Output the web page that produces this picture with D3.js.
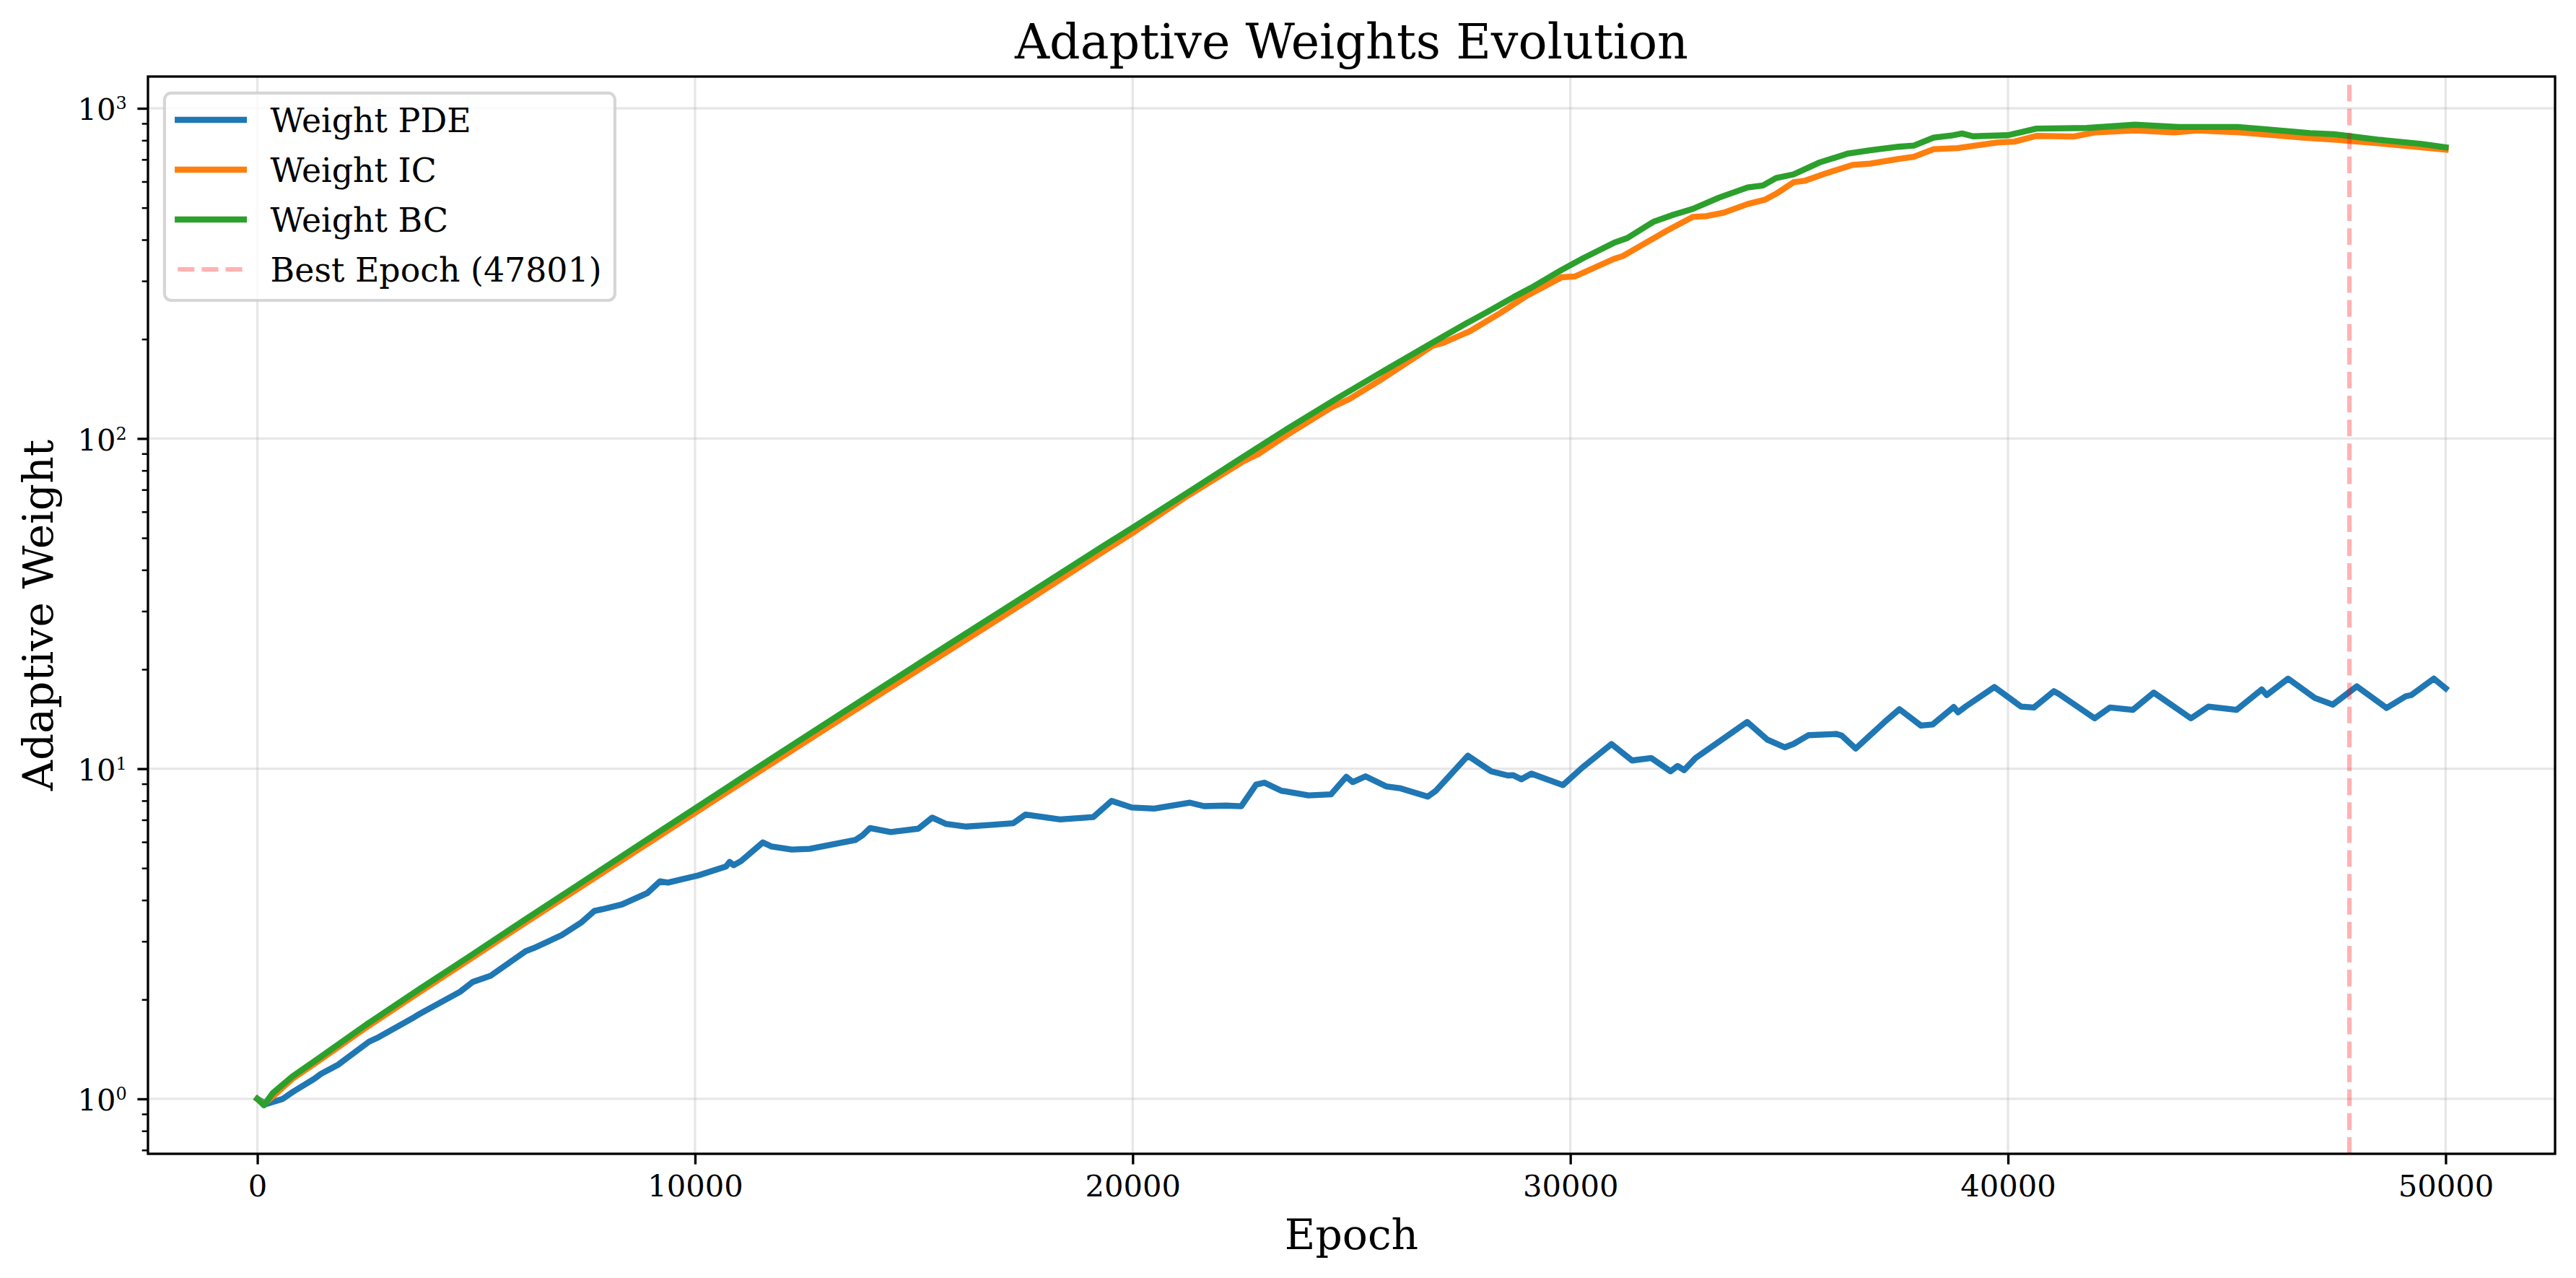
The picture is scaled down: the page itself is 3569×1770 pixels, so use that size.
<!DOCTYPE html>
<html><head><meta charset="utf-8">
<script src="https://cdn.jsdelivr.net/npm/d3@7"></script>
<style>html,body{margin:0;padding:0;background:#fff;} svg{display:block;}</style>
</head><body>
<svg id="chart" width="3569" height="1770"></svg>
<script>
// ---------------- DATA ----------------
const seriesNames = ["Weight PDE", "Weight IC", "Weight BC"];
const bestEpoch = 47801;
const bestLabel = "Best Epoch (47801)";
const xTickValues = [0, 10000, 20000, 30000, 40000, 50000];
const yTickValues = [1, 10, 100, 1000];
const yTickExponents = ["0", "1", "2", "3"];

const epochPDE = [0,200,580,810,1300,1450,1850,2550,2780,3590,3710,4630,4920,5330,6130,6310,6950,7410,7700,7870,8330,8910,9200,9380,10070,10710,10790,10880,11050,11550,11750,12210,12620,13660,13830,14000,14470,15100,15420,15740,16200,16780,17270,17550,18340,19100,19520,19980,20490,21310,21630,22130,22480,22820,23010,23390,24020,24530,24880,25030,25320,25790,26100,26740,26930,27660,28190,28570,28690,28880,29110,29830,30270,30940,31410,31850,32290,32450,32600,32860,34040,34500,34900,35100,35440,36080,36200,36520,37180,37520,38010,38280,38760,38860,39030,39690,40300,40590,41050,41170,41980,42330,42850,43330,44180,44580,45220,45800,45910,46400,47010,47420,47970,48650,49090,49210,49730,50000];
const weightPDE = [1.0,0.965,1.0,1.05,1.15,1.19,1.27,1.49,1.54,1.77,1.81,2.11,2.26,2.36,2.80,2.86,3.13,3.43,3.71,3.75,3.88,4.20,4.56,4.52,4.75,5.06,5.22,5.10,5.25,5.98,5.81,5.69,5.72,6.08,6.29,6.61,6.43,6.58,7.11,6.80,6.68,6.76,6.84,7.26,7.02,7.14,7.99,7.63,7.57,7.89,7.70,7.73,7.70,8.95,9.07,8.58,8.30,8.36,9.45,9.11,9.48,8.84,8.73,8.23,8.58,10.95,9.82,9.54,9.56,9.29,9.66,8.92,10.07,11.87,10.59,10.77,9.82,10.19,9.90,10.77,13.85,12.25,11.61,11.88,12.63,12.74,12.6,11.51,13.85,15.14,13.51,13.62,15.37,14.82,15.42,17.67,15.42,15.32,17.17,16.82,14.21,15.32,15.07,17.0,14.21,15.42,15.07,17.38,16.71,18.74,16.38,15.63,17.76,15.27,16.58,16.7,18.74,17.52];

const epochIC = [0,150,400,800,1400,2500,3700,4850,6000,7200,8350,9250,10650,11800,12950,14100,15300,16400,17550,19300,20000,21250,22500,22870,23550,24550,24950,25650,26850,27100,27700,28400,29000,29800,30100,31000,31200,32200,32800,33100,33500,34050,34450,34700,35100,35350,35850,36450,36850,37500,37850,38300,38850,39750,40150,40650,41500,42000,42900,43800,44350,45300,46800,47450,48450,50000];
const weightIC = [1.0,0.965,1.03,1.150,1.303,1.650,2.104,2.645,3.334,4.227,5.309,6.339,8.356,10.47,13.12,16.41,20.70,25.6,32.0,45.2,51.8,67.0,84.9,89.8,103,124.4,131.6,150,190.8,195,211.2,240,270.3,307.9,309.5,350,357,425.7,469,471.6,483,513,529,551,597,603,636,674,680,703,713,752,758,788,793,825,821,846,857,846,857,846,814,804,784,750];

const epochBC = [0,150,350,800,1400,2500,3700,4850,6000,7200,8350,9250,10650,11800,12950,14100,15300,16400,17550,19300,20000,21250,22500,23550,24650,25650,26850,27600,28100,28700,29100,29800,30300,31000,31300,31900,32350,32800,33400,34050,34400,34700,35100,35700,36350,36850,37500,37850,38300,38750,38950,39200,40000,40650,41800,42900,43900,45250,45950,46900,47450,48450,49450,50000];
const weightBC = [1.0,0.956,1.041,1.169,1.327,1.683,2.148,2.704,3.412,4.335,5.458,6.531,8.630,10.84,13.61,17.06,21.58,26.73,33.42,46.99,53.70,68.5,87.5,107.4,131.8,157.8,195.0,222.3,241.6,268.0,285.8,324.0,352.0,391.7,404.6,453.3,476,496,536.6,576,584,615,631,686,730,746,765,771,815,829,839,823,829,868,872,892,878,878,863,841,835,804,780,762];

// ---------------- LAYOUT ----------------
const W = 3569, H = 1770;
const L = 205, R = 3540, T = 106, B = 1598;
const PT = 300 / 72;
const FONT = "'DejaVu Serif', serif";
const colors = ["#1f77b4", "#ff7f0e", "#2ca02c"];

const svg = d3.select("#chart");
svg.append("rect").attr("width", W).attr("height", H).attr("fill", "#fff");

const x = d3.scaleLinear().domain([-2500, 52500]).range([L, R]);
const y = d3.scaleLog().domain([0.6818, 1248.2]).range([B, T]);

// grid
const grid = svg.append("g");
grid.selectAll("line.gx").data(xTickValues).join("line")
  .attr("x1", d => x(d)).attr("x2", d => x(d)).attr("y1", T).attr("y2", B)
  .attr("stroke", "#b0b0b0").attr("stroke-opacity", 0.3).attr("stroke-width", 0.8 * PT);
grid.selectAll("line.gy").data(yTickValues).join("line")
  .attr("y1", d => y(d)).attr("y2", d => y(d)).attr("x1", L).attr("x2", R)
  .attr("stroke", "#b0b0b0").attr("stroke-opacity", 0.3).attr("stroke-width", 0.8 * PT);

// clip
svg.append("clipPath").attr("id", "clip").append("rect")
  .attr("x", L).attr("y", T).attr("width", R - L).attr("height", B - T);

const series = [
  { e: epochPDE, v: weightPDE },
  { e: epochIC, v: weightIC },
  { e: epochBC, v: weightBC }
];
const line = d3.line().x(d => x(d[0])).y(d => y(d[1]));
const plot = svg.append("g").attr("clip-path", "url(#clip)");
series.forEach((s, i) => {
  plot.append("path")
    .datum(s.e.map((ep, k) => [ep, s.v[k]]))
    .attr("d", line)
    .attr("fill", "none")
    .attr("stroke", colors[i])
    .attr("stroke-width", 2 * PT)
    .attr("stroke-linejoin", "round")
    .attr("stroke-linecap", "square");
});

// best epoch vertical line (drawn bottom -> top like axvline)
plot.append("line")
  .attr("x1", x(bestEpoch)).attr("x2", x(bestEpoch))
  .attr("y1", B).attr("y2", T)
  .attr("stroke", "red").attr("stroke-opacity", 0.3)
  .attr("stroke-width", 1.5 * PT)
  .attr("stroke-dasharray", `${3.7 * 1.5 * PT} ${1.6 * 1.5 * PT}`);

// spines
svg.append("rect").attr("x", L).attr("y", T).attr("width", R - L).attr("height", B - T)
  .attr("fill", "none").attr("stroke", "#000").attr("stroke-width", 0.8 * PT);

// x axis
const gx = svg.append("g").attr("transform", `translate(0,${B})`)
  .call(d3.axisBottom(x).tickValues(xTickValues).tickFormat(d3.format("d"))
    .tickSize(3.5 * PT).tickPadding(3.5 * PT));
gx.select(".domain").remove();
gx.selectAll(".tick line").attr("stroke", "#000").attr("stroke-width", 0.8 * PT);
gx.selectAll(".tick text").attr("font-family", FONT).attr("font-size", 10 * PT).attr("fill", "#000");

// y minor ticks
const minor = [];
[-1, 0, 1, 2, 3].forEach(k => { for (let m = 2; m <= 9; m++) { const v = m * Math.pow(10, k); if (v >= 0.6818 && v <= 1248.2) minor.push(v); } });
const gym = svg.append("g").attr("transform", `translate(${L},0)`)
  .call(d3.axisLeft(y).tickValues(minor).tickFormat(() => "").tickSize(2 * PT));
gym.select(".domain").remove();
gym.selectAll(".tick line").attr("stroke", "#000").attr("stroke-width", 0.6 * PT);

// y major ticks
const gy = svg.append("g").attr("transform", `translate(${L},0)`)
  .call(d3.axisLeft(y).tickValues(yTickValues).tickFormat(() => "")
    .tickSize(3.5 * PT).tickPadding(3.5 * PT));
gy.select(".domain").remove();
gy.selectAll(".tick line").attr("stroke", "#000").attr("stroke-width", 0.8 * PT);
gy.selectAll(".tick text").each(function (d, i) {
  const t = d3.select(this);
  t.text("").attr("font-family", FONT).attr("font-size", 10 * PT).attr("fill", "#000").attr("dy", "0.38em");
  t.append("tspan").text("10");
  t.append("tspan").attr("font-size", 24).attr("dy", -15).text(yTickExponents[yTickValues.indexOf(d)]);
});

// labels
svg.append("text").attr("x", (L + R) / 2).attr("y", 81).attr("text-anchor", "middle")
  .attr("font-family", FONT).attr("font-size", 16 * PT).text("Adaptive Weights Evolution");
svg.append("text").attr("x", (L + R) / 2).attr("y", 1730).attr("text-anchor", "middle")
  .attr("font-family", FONT).attr("font-size", 14 * PT).text("Epoch");
svg.append("text").attr("transform", `translate(73,${(T + B) / 2}) rotate(-90)`).attr("text-anchor", "middle")
  .attr("font-family", FONT).attr("font-size", 14 * PT).text("Adaptive Weight");

// legend
const fs = 11 * PT;
const lg = svg.append("g");
const lgLeft = L + 0.5 * fs, lgTop = T + 0.5 * fs;
const rowY = i => 166 + i * 69;
const hx0 = lgLeft + 0.4 * fs, hx1 = hx0 + 2 * fs, tx = hx1 + 0.8 * fs;
const frame = lg.append("rect").attr("x", lgLeft).attr("y", lgTop).attr("rx", 0.2 * fs).attr("ry", 0.2 * fs)
  .attr("fill", "#fff").attr("fill-opacity", 0.8)
  .attr("stroke", "#cccccc").attr("stroke-opacity", 0.8).attr("stroke-width", 1 * PT);
const labels = seriesNames.concat([bestLabel]);
let maxW = 0;
labels.forEach((name, i) => {
  const ln = lg.append("line").attr("x1", hx0).attr("x2", hx1).attr("y1", rowY(i)).attr("y2", rowY(i));
  if (i < 3) {
    ln.attr("stroke", colors[i]).attr("stroke-width", 2 * PT).attr("stroke-linecap", "square");
  } else {
    ln.attr("stroke", "red").attr("stroke-opacity", 0.3).attr("stroke-width", 1.5 * PT)
      .attr("stroke-dasharray", `${3.7 * 1.5 * PT} ${1.6 * 1.5 * PT}`);
  }
  const t = lg.append("text").attr("x", tx).attr("y", rowY(i) + 0.365 * fs)
    .attr("font-family", FONT).attr("font-size", fs).attr("fill", "#000").text(name);
  maxW = Math.max(maxW, t.node().getComputedTextLength());
});
frame.attr("width", tx + maxW + 0.4 * fs - lgLeft).attr("height", 416 - lgTop);
</script>
</body></html>
